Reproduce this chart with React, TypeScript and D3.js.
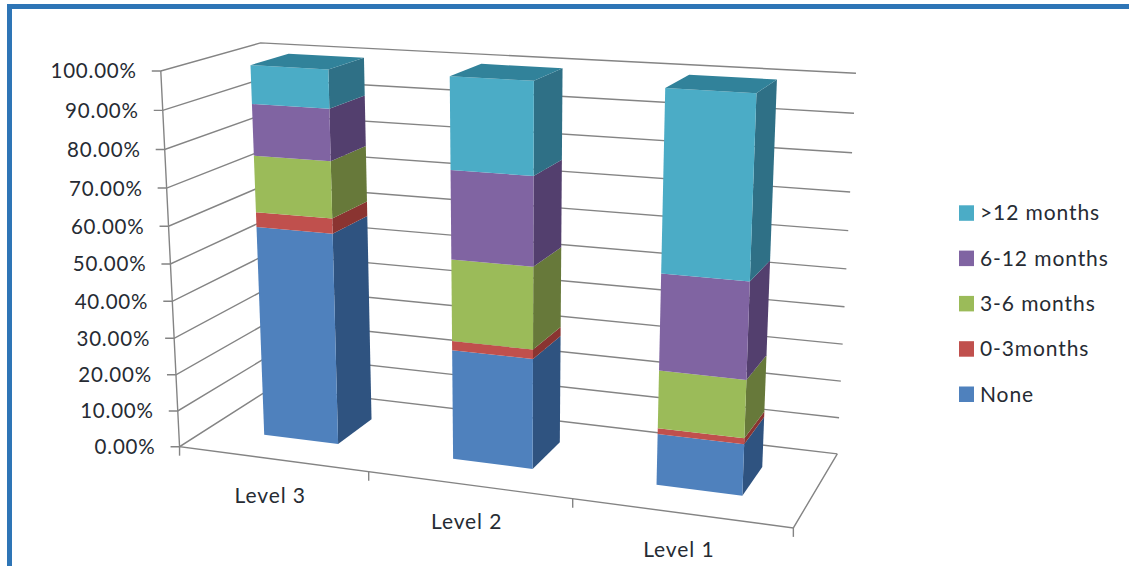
import React from "react";
import * as d3 from "d3";

const width = 1129;
const height = 566;

// Stack order runs from the floor upward; values are percentages per level.
const levels = ["Level 3", "Level 2", "Level 1"];
const seriesNames = ["None", "0-3months", "3-6 months", "6-12 months", ">12 months"];
const none = [57.5, 29.5, 13.5];
const zeroToThree = [4, 2.5, 1.5];
const threeToSix = [15, 21.5, 15];
const sixToTwelve = [13.5, 23, 24.7];
const overTwelve = [10, 23.5, 45.3];
const seriesValues = [none, zeroToThree, threeToSix, sixToTwelve, overTwelve];

const frontColors = ["#4f81bd", "#c0504d", "#9bbb59", "#8064a2", "#4bacc6"];
const sideColors = ["#2f5380", "#8a3431", "#67793a", "#533f6e", "#2f7086"];
const topColor = "#31829a";
const gridColor = "#848484";
const textColor = "#262b33";
const frameColor = "#2e75b6";
const tickValues = d3.range(0, 101, 10);

type P3 = [number, number, number];
type Pt = [number, number];

// Reference points of the plot box in (category, value, depth) unit space,
// paired with their position on the page; they fix the camera.
const cameraAnchors: [P3, Pt][] = [
  [[0, 0, 0], [180, 446]],
  [[1 / 3, 0, 0], [368, 472]],
  [[2 / 3, 0, 0], [573, 500]],
  [[1, 0, 0], [793, 528]],
  [[0, 1, 0], [161, 71]],
  [[0, 0.5, 0], [170.5, 263]],
  [[0, 1, 1], [260, 43]],
  [[0, 0, 1], [273, 388]],
  [[1, 0, 1], [837, 453]],
  [[1, 0.5, 1], [847, 268]],
  [[1, 1, 1], [856, 74]],
];

// Least-squares fit of a 3x4 projective camera (last entry fixed to 1).
function fitCamera(anchors: [P3, Pt][]): number[] {
  const n = 11;
  const ata = Array.from({ length: n }, () => new Array(n + 1).fill(0));
  const add = (row: number[], rhs: number) => {
    for (let i = 0; i < n; i++) {
      for (let j = 0; j < n; j++) ata[i][j] += row[i] * row[j];
      ata[i][n] += row[i] * rhs;
    }
  };
  for (const [[u, v, w], [px, py]] of anchors) {
    const x = px / 1000;
    const y = py / 1000;
    add([u, v, w, 1, 0, 0, 0, 0, -x * u, -x * v, -x * w], x);
    add([0, 0, 0, 0, u, v, w, 1, -y * u, -y * v, -y * w], y);
  }
  for (let c = 0; c < n; c++) {
    let best = c;
    for (let r = c + 1; r < n; r++) if (Math.abs(ata[r][c]) > Math.abs(ata[best][c])) best = r;
    [ata[c], ata[best]] = [ata[best], ata[c]];
    for (let r = 0; r < n; r++) {
      if (r === c) continue;
      const f = ata[r][c] / ata[c][c];
      for (let k = c; k <= n; k++) ata[r][k] -= f * ata[c][k];
    }
  }
  return ata.map((row, i) => row[n] / row[i]);
}

const cam = fitCamera(cameraAnchors);

function project(u: number, v: number, w: number): Pt {
  const d = cam[8] * u + cam[9] * v + cam[10] * w + 1;
  return [
    (1000 * (cam[0] * u + cam[1] * v + cam[2] * w + cam[3])) / d,
    (1000 * (cam[4] * u + cam[5] * v + cam[6] * w + cam[7])) / d,
  ];
}

const uScale = d3.scaleBand<string>().domain(levels).range([0.0015, 1.0015]).paddingInner(0.6).paddingOuter(0.3);
const vScale = d3.scaleLinear().domain([0, 100]).range([0, 1]);
const barNear = 0.3;
const barFar = 0.7;

const pathOf = d3.line<Pt>();
const face = (pts: Pt[]) => (pathOf(pts) ?? "") + "Z";

const stacked = levels.map((_, li) => {
  let sum = 0;
  return seriesValues.map((s) => {
    const from = sum;
    sum += s[li];
    return [from, sum] as [number, number];
  });
});

const labelFont = "Lato, sans-serif";

export default function App() {
  return (
    <svg
      width={width}
      height={height}
      style={{ position: "absolute", left: 0, top: 0, background: "#fff" }}
      fontFamily={labelFont}
    >
      {/* Frame along the top and left edge */}
      <rect x={7} y={4} width={width - 7} height={5} fill={frameColor} />
      <rect x={7} y={4} width={5} height={height - 4} fill={frameColor} />

      {/* Gridlines on the left and back walls */}
      <g fill="none" stroke={gridColor} strokeWidth={1.4}>
        {tickValues.map((t) => {
          const v = vScale(t);
          return (
            <path
              key={t}
              d={pathOf([project(1, v, 1), project(0, v, 1), project(0, v, 0), [project(0, v, 0)[0] - 9, project(0, v, 0)[1]]]) ?? ""}
            />
          );
        })}
        {/* Value axis, floor edges and category ticks */}
        <path d={pathOf([project(0, 1, 0), project(0, 0, 0), project(1, 0, 0), project(1, 0, 1)]) ?? ""} />
        {[0, 1, 2, 3].map((i) => {
          const [x, y] = project(i / 3, 0, 0);
          return <path key={i} d={`M${x},${y}V${y + 9}`} />;
        })}
      </g>

      {/* Value axis labels */}
      <g fontSize={20.5} fill={textColor} textAnchor="end" letterSpacing={0.8}>
        {tickValues.map((t) => {
          const [x, y] = project(0, vScale(t), 0);
          return (
            <text key={t} x={x - 24} y={y + 7.5}>
              {t.toFixed(2)}%
            </text>
          );
        })}
      </g>

      {/* Stacked bars */}
      {levels.map((level, li) => {
        const u0 = uScale(level) ?? 0;
        const u1 = u0 + uScale.bandwidth();
        return (
          <g key={level}>
            {stacked[li].map(([from, to], si) => {
              const a = vScale(from);
              const b = vScale(to);
              return (
                <g key={si}>
                  <path
                    d={face([project(u1, a, barNear), project(u1, a, barFar), project(u1, b, barFar), project(u1, b, barNear)])}
                    fill={sideColors[si]}
                  />
                  <path
                    d={face([project(u0, a, barNear), project(u1, a, barNear), project(u1, b, barNear), project(u0, b, barNear)])}
                    fill={frontColors[si]}
                  />
                </g>
              );
            })}
            <path
              d={face([project(u0, 1, barNear), project(u1, 1, barNear), project(u1, 1, barFar), project(u0, 1, barFar)])}
              fill={topColor}
            />
          </g>
        );
      })}

      {/* Category labels */}
      <g fontSize={21} fill={textColor} textAnchor="middle" letterSpacing={0.9}>
        {levels.map((level) => {
          const [x, y] = project((uScale(level) ?? 0) + uScale.bandwidth() / 2, 0, 0);
          return (
            <text key={level} x={x - 3} y={y + 44}>
              {level}
            </text>
          );
        })}
      </g>

      {/* Legend, top entry first */}
      <g fontSize={21} fill={textColor} letterSpacing={0.9}>
        {seriesNames.map((name, i) => {
          const y = 394.5 - i * 45.3;
          return (
            <g key={name}>
              <rect x={959} y={y - 8} width={15} height={15.5} fill={frontColors[i]} />
              <text x={980} y={y + 7}>
                {name}
              </text>
            </g>
          );
        })}
      </g>
    </svg>
  );
}
